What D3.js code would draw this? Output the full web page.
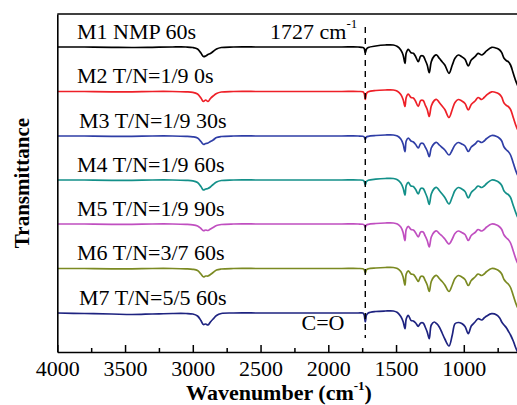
<!DOCTYPE html>
<html>
<head>
<meta charset="utf-8">
<script src="https://cdn.jsdelivr.net/npm/d3@7"></script>
<style>
  html, body { margin: 0; padding: 0; background: #fff; }
  svg { display: block; font-family: "Liberation Serif", "Times New Roman", serif; }
</style>
</head>
<body>
<svg id="chart" width="517" height="405"></svg>
<script>
// wavenumbers (cm-1), shared by all spectra
const wavenumbers = [
  4000, 3800, 3600, 3450, 3300, 3150, 3050, 3000, 2965, 2940,
  2922, 2905, 2888, 2870, 2850, 2825, 2790, 2700, 2500, 2300,
  2100, 1900, 1780, 1745, 1735, 1727, 1718, 1705, 1650, 1580,
  1520, 1490, 1465, 1448, 1434, 1425, 1410, 1390, 1372, 1355,
  1336, 1318, 1300, 1285, 1270, 1255, 1240, 1218, 1200, 1181,
  1160, 1140, 1109, 1085, 1065, 1041, 1015, 991, 967, 945,
  917, 895, 868, 850, 831, 794, 757, 735, 720, 703,
  685, 672, 655, 635, 610, 580, 550
];

// absorption depth below each trace baseline (a.u.)
const m1 = [
  0, 0, 0.3, 0.5, 0.3, 0, 0, 0.5, 2, 6,
  9.5, 9, 7.5, 6.5, 4.5, 2, 0.5, 0, 0, 0,
  0, 0, 0, 0.5, 1.5, 6, 2, 0.5, -1, -2,
  -2, -0.5, 3, 8, 16.3, 6, 2.3, 5.7, 6.3, 9.7,
  14.7, 9, 9, 13, 18, 25.7, 14.7, 9, 8, 11.3,
  14.7, 18, 26.3, 18, 11.3, 8, 9.7, 12.3, 19, 13,
  9.7, 6.3, 8, 6.3, 3.7, 0.3, 1.3, 3, 5.7, 11.3,
  13.7, 14.7, 18, 26.3, 36.3, 45, 52
];
const m2 = [
  0, 0, 0.3, 0.3, 0, 0, 0.3, 0.8, 2.5, 6.5,
  10, 8.5, 10, 7, 4.5, 2, 0.5, 0, 0, 0,
  0, 0, 0, 0.3, 2, 8, 2, 0.3, -1, -1.5,
  -1.5, -0.3, 3, 8, 15, 6, 2.5, 6, 6.5, 10,
  15, 9, 9, 13.5, 18, 25, 14.5, 9, 8, 11,
  14.5, 18, 26, 18, 11, 8, 9.5, 12, 18.5, 13,
  9.5, 6, 8, 6, 3.5, 0.3, 1.3, 3, 5.7, 11.5,
  14, 15, 18, 26, 36, 44, 51
];
const m3 = [
  0, 0, 0.3, 0.3, 0, 0, 0.3, 0.8, 2, 5.5,
  8.3, 7.5, 7, 5.5, 4, 1.5, 0.5, 0, 0, 0,
  0, 0, 0, 0.3, 1, 3.3, 1, 0.3, -0.5, -1,
  -1, 0, 3, 8, 15.7, 5, 2, 5, 6, 8.5,
  12, 7.5, 7.5, 11, 15, 20.7, 12, 7.5, 6.5, 9,
  11.5, 14, 19, 14, 9, 6.5, 8, 10, 15.5, 11,
  8, 5, 6.5, 5, 2.5, -0.5, 0.5, 2.5, 5, 11,
  14, 15.5, 19, 27, 37, 45, 52
];
const m4 = [
  0, 0, 0.3, 0.3, 0, 0, 0.3, 0.8, 2.5, 6.5,
  10, 9, 8.5, 7, 4.5, 2, 0.5, 0, 0, 0,
  0, 0, 0, 0.3, 1.5, 5, 1.5, 0.3, -0.8, -1.5,
  -1.5, -0.3, 3, 8, 15, 5.5, 2.3, 6, 6.5, 9.5,
  14, 8.5, 8.5, 12.5, 17.5, 24.5, 14, 8.5, 7.5, 10.5,
  14, 17.5, 24, 17, 10.5, 7.5, 9, 11.5, 18, 12.5,
  9, 6, 7.5, 6, 3.5, 0, 1, 3, 5.5, 11,
  13.5, 14.5, 17.5, 25.5, 35, 43, 50
];
const m5 = [
  0, 0, 0.3, 0.3, 0, 0, 0.3, 0.8, 2, 4.5,
  6.7, 6, 6.5, 5, 3.5, 1.5, 0.5, 0, 0, 0,
  0, 0, 0, 0.3, 1, 3.3, 1, 0.3, -0.5, -1,
  -1, 0, 3, 8.5, 16.7, 5.5, 2.3, 5.5, 6, 9,
  13, 8, 8, 12, 16.5, 23, 13, 8, 7, 9.5,
  12, 15, 20, 15, 9.5, 7, 8.5, 10.5, 16.5, 11.5,
  8.5, 5.5, 7, 5.5, 3, 0, 1, 3, 5.5, 11,
  14, 15.5, 19, 27, 37, 45, 52
];
const m6 = [
  0, 0, 0.3, 0.3, 0, 0, 0.3, 0.8, 2, 5.5,
  8.3, 7.5, 7.5, 6, 4, 1.5, 0.5, 0, 0, 0,
  0, 0, 0, 0.3, 1.2, 4.5, 1.2, 0.3, -0.5, -1,
  -1, 0, 3, 8.5, 16.7, 5.5, 2.3, 5.5, 6, 9,
  13, 8, 8, 12, 16.5, 23, 13, 8, 7, 10,
  13, 16.5, 23, 16.5, 10, 7, 8.5, 11, 17, 12,
  8.5, 5.5, 7, 5.5, 3, 0, 1, 3, 5.5, 11,
  14, 15.5, 19, 27, 37, 45, 52
];
const m7 = [
  0, 0.5, 1, 1.5, 1, 0.5, 0.5, 1, 3, 7.5,
  11.5, 11, 12, 9, 6, 2.5, 0.5, 0, 0, 0,
  0, 0, 0, 0, 2, 9, 2, 0, -1.5, -2,
  -2, -0.5, 3.5, 8.5, 15.7, 6, 2.3, 7.3, 8, 10,
  13.3, 10, 10, 14, 19, 25.7, 12, 9, 10.7, 14,
  20, 26, 33, 22, 10.7, 9.5, 10.5, 13.5, 20.7, 13,
  9, 5.7, 7, 5, 3, 0.7, 2, 5, 9, 12,
  15, 18, 22, 28, 37, 45, 52
];

const seriesNames = ["M1 NMP 60s", "M2 T/N=1/9 0s", "M3 T/N=1/9 30s", "M4 T/N=1/9 60s",
                     "M5 T/N=1/9 90s", "M6 T/N=3/7 60s", "M7 T/N=5/5 60s"];
const seriesDepths = [m1, m2, m3, m4, m5, m6, m7];
const offsets = [305, 260.5, 216, 172, 128, 83.5, 39]; // stacking offsets (a.u.)
const xTicks = [4000, 3500, 3000, 2500, 2000, 1500, 1000];
const xMinor = [3750, 3250, 2750, 2250, 1750, 1250, 750];
const carbonyl = 1727;

// styles
const colors = ["#000000", "#ee2028", "#2f3ea6", "#139089", "#c04fc0", "#7b8a22", "#1e2380"];
const serif = '"Liberation Serif", "Times New Roman", serif';

const svg = d3.select('#chart');
const plotLeft = 57.3, plotTop = 14, plotBottom = 352;

const x = d3.scaleLinear().domain([4000, 400]).range([plotLeft, plotLeft + 3600 * 0.1355]);
const y = d3.scaleLinear().domain([0, 338]).range([plotBottom, plotTop]);

svg.append('clipPath').attr('id', 'plotClip')
  .append('rect').attr('x', plotLeft).attr('y', plotTop).attr('width', 600).attr('height', plotBottom - plotTop);

const line = d3.line()
  .x(d => x(d[0]))
  .y(d => y(d[1]))
  .curve(d3.curveCatmullRom.alpha(0.5));

// === spectres ===
const traces = svg.append('g').attr('clip-path', 'url(#plotClip)');
seriesDepths.forEach((depths, i) => {
  const pts = wavenumbers.map((w, j) => [w, offsets[i] - depths[j]]);
  traces.append('path')
    .attr('d', line(pts))
    .attr('fill', 'none')
    .attr('stroke', colors[i])
    .attr('stroke-width', 1.7)
    .attr('stroke-linejoin', 'round');
});

// ligne pointillée C=O
svg.append('line')
  .attr('x1', x(carbonyl)).attr('x2', x(carbonyl))
  .attr('y1', 27).attr('y2', 338)
  .attr('stroke', '#000').attr('stroke-width', 1.4)
  .attr('stroke-dasharray', '6,5');

// === labels des séries ===
svg.append('g').selectAll('text').data(seriesNames).enter().append('text')
  .attr('x', (d, i) => (i === 2 || i === 6) ? 79 : 77)
  .attr('y', (d, i) => y(offsets[i]) - 8.5)
  .style('font-size', '22px')
  .text(d => d);

const ann = svg.append('text').attr('x', 270).attr('y', 38.5).style('font-size', '22px');
ann.append('tspan').text('1727 cm');
ann.append('tspan').attr('dy', -11).style('font-size', '13px').text('-1');

svg.append('text').attr('x', 301.5).attr('y', 330).style('font-size', '22px').text('C=O');

// === axes ===
svg.append('g')
  .attr('transform', `translate(0,${plotBottom})`)
  .call(d3.axisBottom(x).tickValues(xMinor).tickSize(-4).tickFormat('').tickSizeOuter(0))
  .call(g => g.select('.domain').remove())
  .call(g => g.selectAll('line').attr('stroke-width', 1.5));

svg.append('g')
  .attr('transform', `translate(0,${plotBottom})`)
  .call(d3.axisBottom(x).tickValues(xTicks).tickFormat(d3.format('d')).tickSize(-7).tickPadding(8.5).tickSizeOuter(0))
  .call(g => g.select('.domain').attr('stroke-width', 1.6))
  .call(g => g.selectAll('line').attr('stroke-width', 1.5))
  .call(g => g.selectAll('text')
    .style('font-family', serif).style('font-size', '22px').attr('fill', '#000'));

svg.append('g')
  .attr('transform', `translate(${plotLeft},0)`)
  .call(d3.axisLeft(y).tickValues([]).tickSizeOuter(0))
  .call(g => g.select('.domain').attr('stroke-width', 1.6));

svg.append('line')
  .attr('x1', plotLeft).attr('x2', x(400))
  .attr('y1', plotTop).attr('y2', plotTop)
  .attr('stroke', '#000').attr('stroke-width', 1.6);

// titres des axes
const xt = svg.append('text')
  .attr('x', 279).attr('y', 400)
  .attr('text-anchor', 'middle')
  .style('font-size', '22px').style('font-weight', 'bold');
xt.append('tspan').text('Wavenumber (cm');
xt.append('tspan').attr('dy', -10).style('font-size', '13px').text('-1');
xt.append('tspan').attr('dy', 10).text(')');

svg.append('text')
  .attr('transform', 'translate(29,183) rotate(-90)')
  .attr('text-anchor', 'middle')
  .style('font-size', '21px').style('font-weight', 'bold')
  .text('Transmittance');
</script>
</body>
</html>
